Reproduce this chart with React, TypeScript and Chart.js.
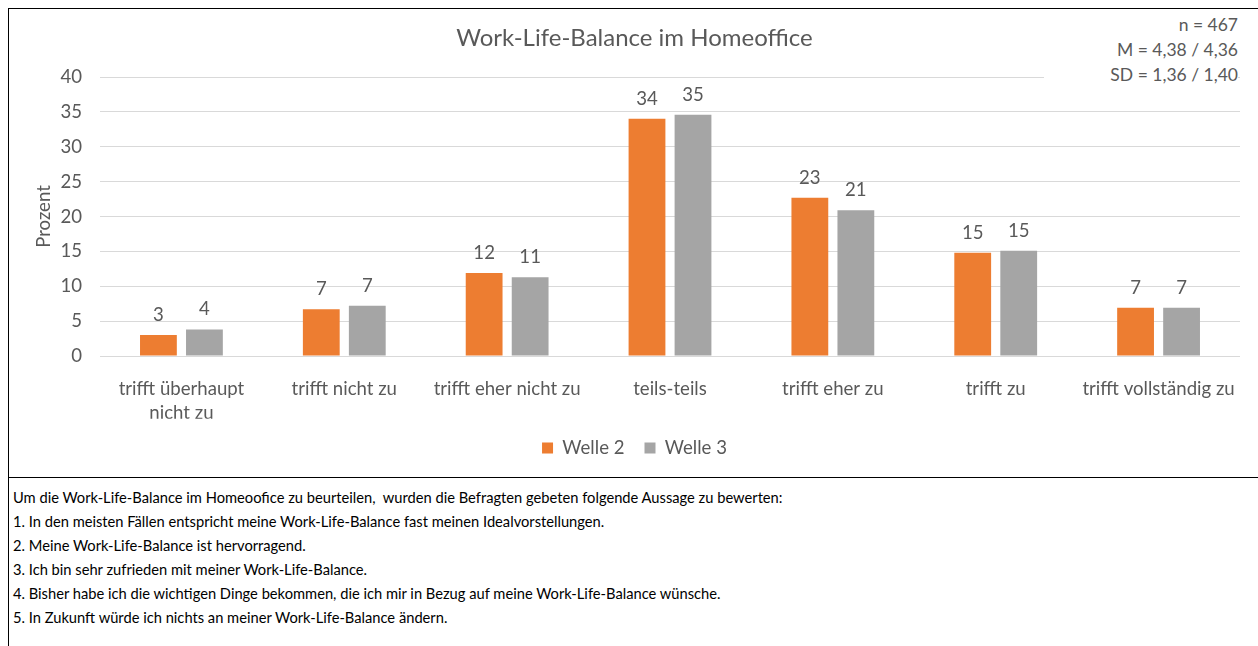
import React, { useEffect, useRef } from 'react';
import { Chart, registerables } from 'chart.js';

Chart.register(...registerables);

document.body.style.margin = '0';
document.body.style.overflow = 'hidden';

const categories: (string | string[])[] = [
  ['trifft überhaupt', 'nicht zu'],
  'trifft nicht zu',
  'trifft eher nicht zu',
  'teils-teils',
  'trifft eher zu',
  'trifft zu',
  'trifft vollständig zu',
];
const welle2 = [3.0, 6.7, 11.9, 34.0, 22.7, 14.8, 6.9];
const welle3 = [3.8, 7.2, 11.3, 34.6, 20.9, 15.1, 6.9];
const seriesNames = ['Welle 2', 'Welle 3'];
const yMin = 0;
const yMax = 40;
const yStep = 5;
const title = 'Work-Life-Balance im Homeoffice';
const yTitle = 'Prozent';
const statsLines = ['n = 467', 'M = 4,38 / 4,36', 'SD = 1,36 / 1,40'];
const noteLines = [
  'Um die Work-Life-Balance im Homeoofice zu beurteilen,  wurden die Befragten gebeten folgende Aussage zu bewerten:',
  '1. In den meisten Fällen entspricht meine Work-Life-Balance fast meinen Idealvorstellungen.',
  '2. Meine Work-Life-Balance ist hervorragend.',
  '3. Ich bin sehr zufrieden mit meiner Work-Life-Balance.',
  '4. Bisher habe ich die wichtigen Dinge bekommen, die ich mir in Bezug auf meine Work-Life-Balance wünsche.',
  '5. In Zukunft würde ich nichts an meiner Work-Life-Balance ändern.',
];

const FONT = 'Lato, Carlito, Calibri, "Open Sans", sans-serif';
const GREY_TEXT = '#595959';
const FS = 18.6;

const dataLabelPlugin = {
  id: 'dataLabels',
  afterDatasetsDraw(chart: any) {
    const ctx = chart.ctx;
    ctx.save();
    ctx.font = `${FS}px ${FONT}`;
    ctx.fillStyle = GREY_TEXT;
    ctx.textAlign = 'center';
    ctx.textBaseline = 'middle';
    chart.data.datasets.forEach((ds: any, i: number) => {
      const meta = chart.getDatasetMeta(i);
      meta.data.forEach((el: any, j: number) => {
        const v = ds.data[j];
        ctx.fillText(String(Math.round(v)), el.x, el.y - 20);
      });
    });
    ctx.restore();
  },
};

export default function App() {
  const canvasRef = useRef<HTMLCanvasElement | null>(null);

  useEffect(() => {
    if (!canvasRef.current) return;
    const chart = new Chart(canvasRef.current, {
      type: 'bar',
      data: {
        labels: categories as any,
        datasets: [
          {
            label: seriesNames[0],
            data: welle2,
            backgroundColor: '#ED7D31',
            borderWidth: 0,
            categoryPercentage: 0.565,
            barPercentage: 0.8,
          },
          {
            label: seriesNames[1],
            data: welle3,
            backgroundColor: '#A5A5A5',
            borderWidth: 0,
            categoryPercentage: 0.565,
            barPercentage: 0.8,
          },
        ],
      },
      options: {
        responsive: false,
        animation: false,
        layout: { padding: { left: 20, right: 18, top: 0, bottom: 9.7 } },
        plugins: {
          title: {
            display: true,
            text: title,
            color: GREY_TEXT,
            font: { family: FONT, size: 24, weight: 'normal' },
            padding: { top: 14.6, bottom: 24.6 },
          },
          legend: {
            display: true,
            position: 'bottom',
            labels: {
              boxWidth: 11,
              boxHeight: 11,
              padding: 20,
              color: GREY_TEXT,
              font: { family: FONT, size: FS },
            },
          },
          tooltip: { enabled: false },
        },
        scales: {
          x: {
            offset: true,
            grid: { display: false },
            border: { display: false },
            ticks: {
              color: GREY_TEXT,
              font: { family: FONT, size: FS, lineHeight: 24 / FS },
              padding: 13,
              maxRotation: 0,
              autoSkip: false,
            },
            afterFit(scale: any) {
              scale.height = 62.7;
            },
          },
          y: {
            min: yMin,
            max: yMax,
            ticks: {
              stepSize: yStep,
              color: GREY_TEXT,
              font: { family: FONT, size: FS },
              padding: 18,
            },
            grid: { color: '#D9D9D9', lineWidth: 1, drawTicks: false },
            border: { display: false },
            title: {
              display: true,
              text: yTitle,
              color: GREY_TEXT,
              font: { family: FONT, size: FS },
            },
            afterFit(scale: any) {
              scale.width = 71;
            },
          },
        },
      },
      plugins: [dataLabelPlugin],
    });
    return () => chart.destroy();
  }, []);

  return (
    <div
      style={{
        position: 'relative',
        width: 1258,
        height: 646,
        overflow: 'hidden',
        background: '#fff',
        fontFamily: FONT,
      }}
    >
      <div
        style={{
          position: 'absolute',
          left: 8,
          top: 8,
          width: 1250,
          height: 470,
          boxSizing: 'border-box',
          borderTop: '1px solid #000',
          borderLeft: '1px solid #000',
          borderBottom: '1px solid #000',
        }}
      />
      <canvas
        ref={canvasRef}
        width={1249}
        height={468}
        style={{ position: 'absolute', left: 9, top: 9, width: 1249, height: 468 }}
      />
      <div
        style={{
          position: 'absolute',
          right: 20,
          top: 12,
          width: 194,
          background: '#fff',
          textAlign: 'right',
          color: GREY_TEXT,
          fontSize: 17.5,
          lineHeight: '25px',
        }}
      >
        {statsLines.map((l, i) => (
          <div key={i}>{l}</div>
        ))}
      </div>
      <div
        style={{
          position: 'absolute',
          left: 8,
          top: 478,
          width: 1250,
          height: 168,
          boxSizing: 'border-box',
          borderLeft: '1px solid #000',
          paddingLeft: 4,
          paddingTop: 7,
          color: '#000',
          fontSize: 14.7,
          lineHeight: '24px',
          whiteSpace: 'pre',
        }}
      >
        {noteLines.map((l, i) => (
          <div key={i}>{l}</div>
        ))}
      </div>
    </div>
  );
}
